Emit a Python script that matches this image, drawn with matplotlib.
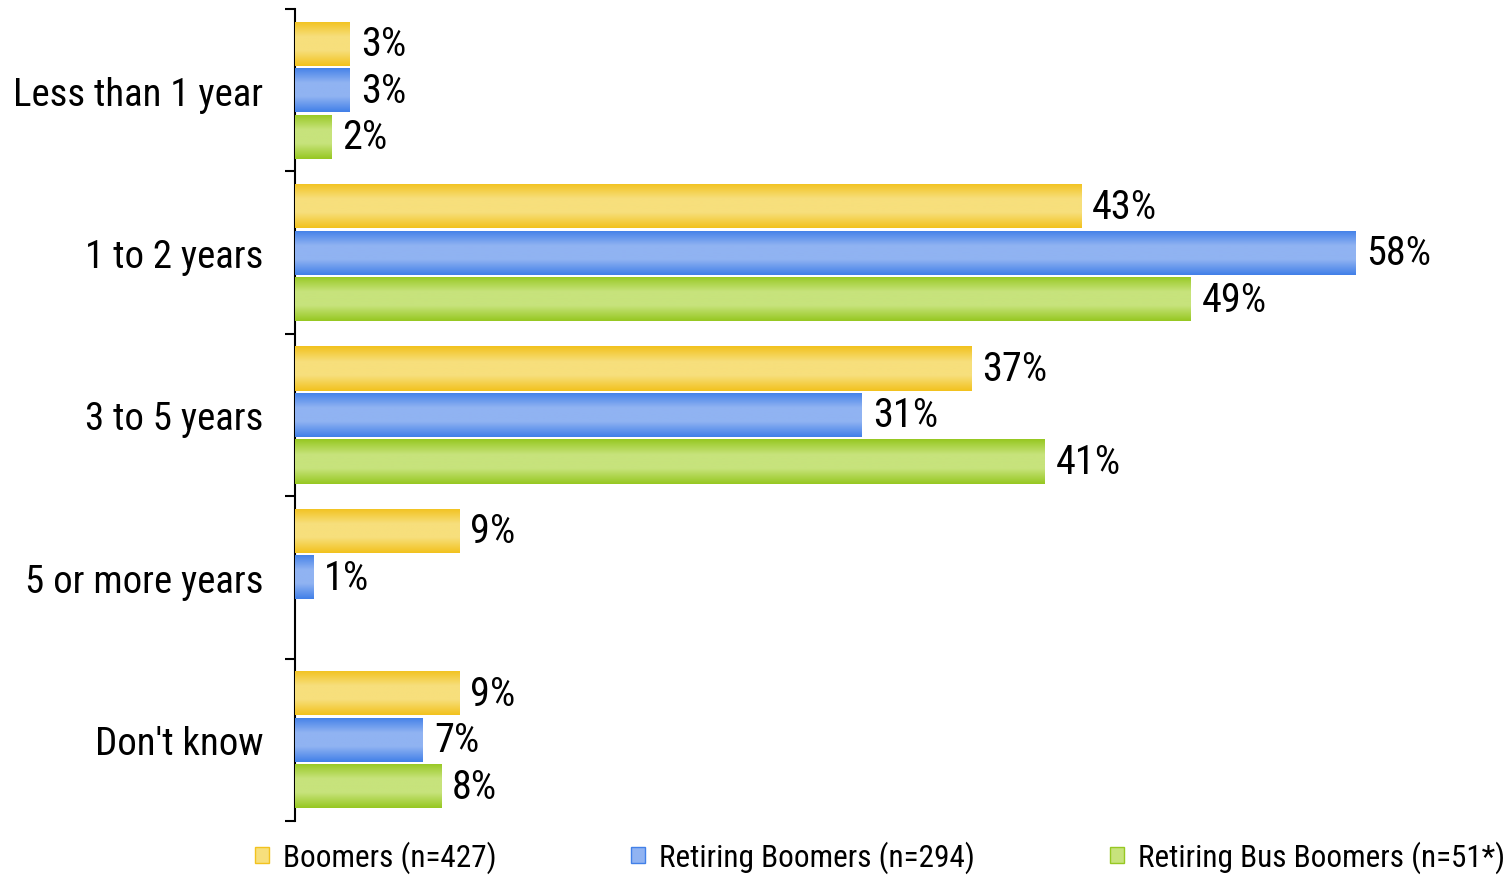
import matplotlib
matplotlib.use("Agg")
import matplotlib.pyplot as plt
import numpy as np
from matplotlib.colors import LinearSegmentedColormap
from matplotlib.patches import Patch

plt.rcParams['font.family'] = ['Liberation Sans Narrow', 'Arial Narrow', 'Roboto Condensed',
                               'Archivo Narrow', 'DejaVu Sans']

categories = ["Less than 1 year", "1 to 2 years", "3 to 5 years", "5 or more years", "Don't know"]
series_names = ["Boomers (n=427)", "Retiring Boomers (n=294)", "Retiring Bus Boomers (n=51*)"]
boomers = [3, 43, 37, 9, 9]
retiring = [3, 58, 31, 1, 7]
retiring_bus = [2, 49, 41, None, 8]

edge_cols = ["#F2C21E", "#4280E8", "#97C822"]
mid_cols = ["#F7DF7C", "#90B3F2", "#C7E37C"]

fig = plt.figure(figsize=(15.06, 8.78), dpi=100)
W, H = 1506, 878
left, right, top, bottom = 295, 1428, 10, 822
ax = fig.add_axes([left / W, 1 - bottom / H, (right - left) / W, (bottom - top) / H])

y = np.arange(len(categories))
step = 0.286
hgt = 0.272
all_series = [boomers, retiring, retiring_bus]
gy = np.linspace(0, 1, 64)
gprof = 1 - np.abs(gy - 0.5) * 2
gprof = np.clip(gprof * 1.45, 0, 1)

for i, vals in enumerate(all_series):
    cmap = LinearSegmentedColormap.from_list(f"c{i}", [edge_cols[i], mid_cols[i]])
    for j, v in enumerate(vals):
        if v is None:
            continue
        yc = y[j] + (i - 1) * step
        bar = ax.barh(yc, v, height=hgt, color=mid_cols[i], edgecolor='none', zorder=2)[0]
        im = ax.imshow(gprof.reshape(-1, 1), cmap=cmap, aspect='auto',
                       extent=[0, v, yc + hgt / 2, yc - hgt / 2], zorder=3,
                       interpolation='bilinear', vmin=0, vmax=1)
        im.set_clip_path(bar)
        ax.text(v + 0.6, yc, f"{v}%", va='center', ha='left', fontsize=29, zorder=4)

ax.set_xlim(0, (right - left) / 18.28)
ax.set_ylim(len(categories) - 0.5, -0.5)

for s in ['top', 'right', 'bottom']:
    ax.spines[s].set_visible(False)
ax.spines['left'].set_linewidth(1.5)
ax.set_xticks([])
ax.set_yticks(np.arange(-0.5, len(categories), 1.0))
ax.set_yticklabels([])
ax.tick_params(axis='y', which='major', length=7.2, width=1.5, direction='out')
ax.set_yticks(y, minor=True)
ax.set_yticklabels(categories, minor=True, fontsize=28)
ax.tick_params(axis='y', which='minor', length=0, pad=23)

handles = [Patch(facecolor=mid_cols[i], edgecolor=edge_cols[i], linewidth=1) for i in range(3)]
fs_leg = 22.5
fig.legend(handles, series_names, loc='center left', bbox_to_anchor=(255 / W, 1 - 858 / H),
           ncol=3, frameon=False, handlelength=0.45, handleheight=0.45,
           columnspacing=4.3, handletextpad=0.45, borderpad=0, borderaxespad=0,
           prop={'size': fs_leg})

fig.savefig("out.png", dpi=100)
